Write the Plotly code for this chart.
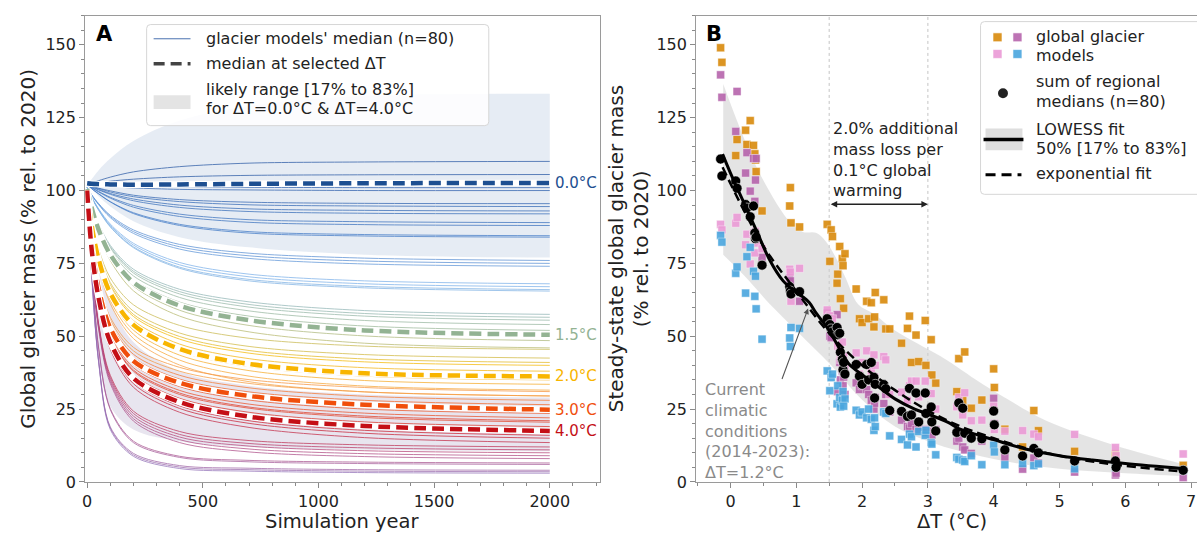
import plotly.graph_objects as go
from plotly.colors import sample_colorscale

W, H = 1197, 541
FONT = "DejaVu Sans"

# ---------------- Panel A data ----------------
years = [0, 20, 50, 100, 200, 400, 700, 1200, 2000]

curve_dT = [0.0, 0.0, 0.1, 0.1, 0.15, 0.2, 0.2, 0.25, 0.3, 0.3, 0.4, 0.4,
            0.6, 0.6, 0.65, 0.9, 0.9, 0.95, 0.95,
            1.3, 1.35, 1.4, 1.45, 1.5, 1.6, 1.65,
            1.75, 1.8, 1.9, 2.0, 2.1, 2.2, 2.3, 2.4, 2.5,
            2.55, 2.6, 2.8, 2.9, 3.1, 3.2, 3.4,
            3.5, 3.6, 4.0, 4.1, 4.3,
            4.5, 4.7, 4.9, 5.1, 5.3, 5.6, 5.9, 6.3, 6.6, 7.0]

curve_vals = [
    [102, 102.6, 103.4, 104.6, 106.4, 108.2, 109.4, 109.8, 110],
    [102, 102.3, 102.6, 103.2, 103.9, 104.7, 105.2, 105.4, 105.5],
    [102, 101.9, 101.8, 101.7, 101.5, 101.2, 101.1, 101.0, 101],
    [102, 101.8, 101.6, 101.3, 100.9, 100.4, 100.2, 100.0, 100],
    [102, 101.5, 100.8, 99.9, 98.4, 96.9, 96.0, 95.6, 95.5],
    [102, 101.4, 100.7, 99.5, 97.9, 96.2, 95.1, 94.7, 94.5],
    [102, 101.3, 100.4, 99.0, 97.1, 95.0, 93.7, 93.2, 93],
    [102, 101.2, 100.2, 98.7, 96.5, 94.2, 92.8, 92.2, 92],
    [102, 101.0, 99.7, 97.7, 94.9, 91.9, 90.0, 89.3, 89],
    [102, 100.9, 99.5, 97.4, 94.3, 91.1, 89.1, 88.3, 88],
    [102, 100.6, 98.9, 96.2, 92.4, 88.4, 85.9, 84.9, 84.5],
    [102, 100.6, 98.8, 96.1, 92.1, 88.0, 85.4, 84.4, 84],
    [101, 98.5, 95.5, 91.5, 86.5, 81.5, 78.5, 76.8, 76],
    [101, 98.4, 95.3, 91.1, 85.9, 80.7, 77.6, 75.8, 75],
    [101, 98.3, 95.1, 90.7, 85.3, 79.9, 76.7, 74.8, 74],
    [101, 97.7, 93.7, 88.5, 81.9, 75.3, 71.3, 69.0, 68],
    [101, 97.6, 93.5, 88.1, 81.3, 74.5, 70.4, 68.0, 67],
    [101, 97.5, 93.3, 87.7, 80.7, 73.7, 69.5, 67.1, 66],
    [101, 97.5, 93.2, 87.5, 80.4, 73.3, 69.0, 66.6, 65.5],
    [100.5, 94.9, 88.5, 81.2, 73.0, 66.1, 61.8, 58.8, 57.5],
    [100.5, 94.8, 88.2, 80.7, 72.3, 65.3, 60.9, 57.8, 56.5],
    [100.5, 94.7, 87.9, 80.3, 71.7, 64.5, 60.0, 56.9, 55.5],
    [100.5, 94.5, 87.5, 79.6, 70.7, 63.3, 58.7, 55.4, 54],
    [100.5, 94.2, 86.9, 78.7, 69.5, 61.7, 56.9, 53.5, 52],
    [100.5, 93.7, 85.9, 77.1, 67.2, 58.9, 53.7, 50.1, 48.5],
    [100.5, 93.4, 85.2, 76.0, 65.6, 56.9, 51.5, 47.6, 46],
    [100, 89.6, 79.8, 70.0, 60.8, 53.7, 49.3, 46.6, 45.5],
    [100, 89.1, 78.7, 68.4, 58.6, 51.1, 46.5, 43.7, 42.5],
    [100, 88.8, 78.2, 67.6, 57.5, 49.9, 45.1, 42.2, 41],
    [100, 88.6, 77.8, 67.0, 56.8, 49.0, 44.2, 41.2, 40],
    [100, 88.2, 77.1, 65.9, 55.4, 47.3, 42.3, 39.2, 38],
    [100, 87.7, 76.0, 64.3, 53.2, 44.8, 39.6, 36.3, 35],
    [100, 87.4, 75.4, 63.4, 52.1, 43.5, 38.2, 34.8, 33.5],
    [100, 87.0, 74.7, 62.3, 50.7, 41.8, 36.3, 32.9, 31.5],
    [100, 86.6, 73.9, 61.2, 49.2, 40.1, 34.4, 30.9, 29.5],
    [100, 82.4, 68.3, 55.6, 45.0, 38.0, 33.8, 30.9, 29.5],
    [100, 82.8, 69.0, 56.5, 46.2, 39.3, 35.1, 32.4, 31],
    [100, 82.0, 67.6, 54.6, 43.8, 36.6, 32.3, 29.4, 28],
    [100, 81.6, 66.9, 53.7, 42.7, 35.3, 30.9, 28.0, 26.5],
    [100, 80.9, 65.6, 51.8, 40.3, 32.7, 28.1, 25.0, 23.5],
    [100, 80.5, 64.9, 50.9, 39.2, 31.4, 26.7, 23.6, 22],
    [100, 80.1, 64.2, 49.9, 38.0, 30.0, 25.3, 22.1, 20.5],
    [100, 80.3, 64.5, 50.2, 38.4, 30.5, 25.7, 22.6, 21],
    [100, 79.8, 63.6, 49.0, 36.8, 28.7, 23.9, 20.6, 19],
    [100, 79.0, 62.2, 47.1, 34.5, 26.1, 21.0, 17.7, 16],
    [100, 78.8, 61.8, 46.5, 33.7, 25.2, 20.1, 16.7, 15],
    [100, 78.4, 61.1, 45.5, 32.5, 23.9, 18.7, 15.2, 13.5],
    [100, 76.2, 54.2, 36.6, 24.3, 17.3, 14.2, 12.7, 12],
    [100, 76.0, 53.7, 35.9, 23.5, 16.3, 13.2, 11.7, 11],
    [100, 75.7, 53.2, 35.2, 22.6, 15.4, 12.3, 10.7, 10],
    [100, 75.4, 52.7, 34.5, 21.7, 14.5, 11.3, 9.7, 9],
    [100, 75.2, 52.2, 33.8, 20.9, 13.5, 10.3, 8.7, 8],
    [100, 72.9, 45.8, 25.2, 14.0, 8.8, 7.4, 6.8, 6.5],
    [100, 72.7, 45.5, 24.8, 13.5, 8.4, 6.9, 6.3, 6],
    [100, 71.2, 41.4, 18.9, 9.8, 5.6, 4.7, 4.2, 4],
    [100, 71.0, 41.1, 18.5, 9.3, 5.1, 4.2, 3.7, 3.5],
    [100, 70.9, 40.8, 18.0, 8.8, 4.6, 3.7, 3.2, 3],
]

med_labels = ["0.0°C", "1.5°C", "2.0°C", "3.0°C", "4.0°C"]
med_vals = [
    [102.5, 102.3, 102.2, 102.1, 102.0, 102.1, 102.3, 102.5, 102.6],
    [100.5, 94.0, 86.5, 78.0, 68.5, 60.5, 55.5, 52.0, 50.5],
    [100, 87.8, 76.3, 64.8, 53.9, 45.6, 40.5, 37.3, 36.2],
    [100, 81.3, 66.3, 52.8, 41.5, 34.0, 29.5, 26.5, 24.8],
    [100, 79.4, 62.9, 48.0, 35.6, 27.4, 22.4, 19.2, 17.5],
]

range0_upper = [102, 104, 107, 111, 117, 124, 129, 132.5, 133.2]
range0_lower = [102, 100.5, 98, 94.5, 89.5, 84, 80.5, 78, 77]
range4_upper = [100, 88, 76, 62, 48, 38, 33, 30, 29]
range4_lower = [100, 66, 42, 26, 18, 14, 12, 11, 10.5]

# ---------------- Panel B data ----------------
dT_B = [-0.15, -0.13, 0.08, 0.10, 0.23, 0.25, 0.30, 0.35, 0.37, 0.38, 0.39, 0.48,
        0.90, 0.91, 0.92, 1.05, 1.47, 1.51, 1.53, 1.55, 1.62, 1.63, 1.66, 1.67,
        1.70, 1.71, 1.74, 1.72, 1.91, 1.96, 2.00, 2.07, 2.10, 2.14, 2.18, 2.19,
        2.20, 2.33, 2.36, 2.42, 2.60, 2.69, 2.72, 2.75, 2.82, 2.86, 2.96, 2.97,
        3.05, 3.06, 3.12, 3.44, 3.47, 3.53, 3.56, 3.66, 3.82, 4.00, 4.01, 4.17,
        4.44, 4.61, 4.68, 5.23, 5.85, 5.86, 6.88]
model_orange = [149, 144, 112, 117.5, 120.7, 115.8, 124, 115.5, 112.6, 110.5, 106.5, 93,
                94.7, 101, 88.9, 87.5, 88.4, 75.7, 86.5, 84.2, 68.2, 71.3, 80.8, 62.9,
                76.6, 74.2, 78.3, 59.6, 66.2, 56, 54.7, 62, 56, 61.5, 53.2, 56.6,
                65, 62.5, 52.5, 52.5, 47.6, 52.7, 56.9, 41, 50.4, 41.3, 55.4, 40,
                48.8, 36.7, 33.9, 31, 42.3, 28, 44.6, 25.3, 28.1, 38.8, 32.4, 18.1,
                12, 24.5, 17.6, 10.5, 9.7, 7, 5.7]
model_purple = [139.7, 132, 120.3, 134, 106, 113, 99.8, 111, 96.3, 103.6, 111, 77.1,
                70, 69, 66, 62, 58, 50, 49.5, 53, 57.4, 31, 41, 35,
                38, 33, 30, 36, 34, 31.7, 33, 31.7, 30, 28, 25, 27,
                29, 26.9, 30, 24, 21.2, 19, 18.5, 20, 18, 18, 18, 17,
                17.4, 16, 18, 14, 15, 12, 11, 9.8, 14, 28.7, 20, 8.4,
                4.4, 8.2, 6.5, 3.4, 2.4, 3, 1.5]
model_pink = [88.4, 86.5, 88.8, 90.8, 81.4, 85, 74.8, 85.4, 78.6, 86, 82, 80,
              73, 72, 62, 73.3, 59, 57, 55, 56, 53, 46.6, 45, 42,
              48, 40, 39, 43, 44.3, 37, 41, 45, 40, 38, 43.6, 36,
              40, 43, 41.9, 30, 30.8, 28, 33, 34.6, 34.6, 29.2, 34.6, 30.3,
              30.3, 25.3, 25, 25.8, 29, 23, 30.6, 21, 21.2, 26, 18, 17.4,
              17.6, 16.4, 15.5, 16.3, 11.8, 9, 9.6]
model_blue = [84.6, 82.3, 71.6, 73.8, 64.8, 77.3, 80.5, 72.3, 63.7, 70.6, 59.4, 49,
              49.4, 46.5, 53, 52.7, 38.1, 31.3, 35.8, 37, 26.8, 33, 29, 25.7,
              28, 31, 28.5, 26, 24.6, 23, 24, 22, 25, 21.5, 17.7, 22,
              19, 24, 23.5, 15.8, 14.6, 12.7, 16.4, 15.5, 12, 17.3, 16, 17.7,
              13.5, 13, 9.3, 8.4, 7.8, 7.5, 7, 9, 5.9, 12.6, 10.3, 5.9,
              6.3, 5.6, 6.2, 4.5, 5, 5.5, 4]
regional_median_sum = [110.8, 105, 103.3, 100.8, 95.2, 94, 91, 94.7, 85.4, 83.5, 84, 74.4,
                       67, 65.5, 64.5, 65.3, 56, 54, 52.5, 51.5, 53, 50.5, 51, 44.5,
                       42, 38.5, 37, 41, 40.3, 36.3, 33.5, 40.3, 35, 41, 35.9, 28.8,
                       33.5, 33.4, 32, 24.5, 24.2, 22.5, 32.1, 23, 30.5, 20.6, 30.5, 23.5,
                       25.7, 20.6, 17.5, 17, 27.1, 25.3, 16.7, 15, 14.8, 24.3, 19.6, 11,
                       8.9, 11.5, 10, 7.2, 7.2, 5, 4]

lowess_dT = [-0.12, 0.0, 0.2, 0.4, 0.6, 0.8, 1.0, 1.1, 1.2, 1.3, 1.5, 1.6, 1.7, 1.8,
             2.0, 2.2, 2.5, 2.8, 3.0, 3.3, 3.5, 4.0, 4.5, 5.0, 5.5, 6.0, 6.9]
lowess_val = [112.5, 106, 96, 86, 76, 69, 65, 63.5, 61.5, 58, 52, 48, 44, 40.5,
              36.8, 33.5, 28.5, 25, 23.3, 20.5, 18, 14.5, 11.2, 9, 7.5, 6.3, 4.5]
lowess_up_dT = [-0.11, 0.42, 0.91, 1.1, 1.3, 1.45, 1.6, 1.75, 1.94, 2.17, 2.5, 3.2,
                3.8, 4.2, 4.8, 5.85, 6.9]
lowess_up_val = [136.6, 107, 89, 85.8, 85.5, 82.5, 77, 70, 61, 57.8, 52, 43,
                 34, 28.5, 21, 12.5, 6]
lowess_lo_dT = [-0.11, 0.2, 0.6, 1.0, 1.53, 1.98, 2.5, 3.0, 3.5, 4.2, 5.0, 6.0, 6.9]
lowess_lo_val = [78, 71, 61, 52, 40, 28.6, 19, 14, 10.5, 7, 4.5, 3, 2]
expfit_dT = [-0.12, 0.5, 1.0, 1.5, 2.0, 2.5, 3.0, 3.5, 4.0, 4.5, 5.0, 5.5, 6.0, 6.9]
expfit_val = [108, 81, 65.5, 51, 40, 31.5, 24.5, 19, 15, 11.5, 9, 7, 5.5, 3.5]

# ---------------- styles ----------------
cscale = [[0.0, "#2757a4"], [0.057, "#3f78c6"], [0.129, "#7ab0ea"],
          [0.214, "#9bb89a"], [0.286, "#f5b800"], [0.357, "#f7a040"],
          [0.429, "#f25a22"], [0.571, "#cc1c2c"], [0.714, "#b2467e"],
          [1.0, "#9270b8"]]
med_colors = ["#1d4f91", "#93b393", "#f8b500", "#f04e0c", "#c40f16"]
c_orange, c_purple, c_pink, c_blue = "#d98a0c", "#b664ac", "#eb9ad6", "#4aa6de"


def X(p):
    return p / W


def Y(p):
    return 1 - p / H


fig = go.Figure()

# Panel A likely ranges
for up, lo, col in [(range0_upper, range0_lower, "rgba(196,210,228,0.42)"),
                    (range4_upper, range4_lower, "rgba(200,194,216,0.42)")]:
    fig.add_trace(go.Scatter(x=years, y=lo, mode="lines", line=dict(width=0, shape="spline"),
                             showlegend=False, hoverinfo="skip", xaxis="x", yaxis="y"))
    fig.add_trace(go.Scatter(x=years, y=up, mode="lines", line=dict(width=0, shape="spline"),
                             fill="tonexty", fillcolor=col, showlegend=False,
                             hoverinfo="skip", xaxis="x", yaxis="y"))

# Panel A individual curves
for dT, vals in zip(curve_dT, curve_vals):
    col = sample_colorscale(cscale, [dT / 7.0])[0]
    fig.add_trace(go.Scatter(x=years, y=vals, mode="lines",
                             line=dict(color=col, width=1, shape="spline", smoothing=0.9),
                             opacity=0.72, showlegend=False, xaxis="x", yaxis="y"))

# Panel A medians
for vals, col in zip(med_vals, med_colors):
    fig.add_trace(go.Scatter(x=years, y=vals, mode="lines",
                             line=dict(color="white", width=6.5, shape="spline", smoothing=0.9),
                             showlegend=False, xaxis="x", yaxis="y"))
    fig.add_trace(go.Scatter(x=years, y=vals, mode="lines",
                             line=dict(color=col, width=4.5, dash="12px,6px", shape="spline",
                                       smoothing=0.9),
                             showlegend=False, xaxis="x", yaxis="y"))

# Panel B band
fig.add_trace(go.Scatter(x=lowess_lo_dT, y=lowess_lo_val, mode="lines",
                         line=dict(width=0, shape="spline"), showlegend=False,
                         hoverinfo="skip", xaxis="x2", yaxis="y2"))
fig.add_trace(go.Scatter(x=lowess_up_dT, y=lowess_up_val, mode="lines",
                         line=dict(width=0, shape="spline"), fill="tonexty",
                         fillcolor="rgba(205,205,205,0.55)", showlegend=False,
                         hoverinfo="skip", xaxis="x2", yaxis="y2"))

# Panel B model squares
for vals, col in [(model_orange, c_orange), (model_purple, c_purple),
                  (model_pink, c_pink), (model_blue, c_blue)]:
    fig.add_trace(go.Scatter(x=dT_B, y=vals, mode="markers",
                             marker=dict(symbol="square", size=8, color=col, opacity=0.9,
                                         line=dict(color="rgba(255,255,255,0.7)", width=0.6)),
                             showlegend=False, xaxis="x2", yaxis="y2"))

fig.add_trace(go.Scatter(x=dT_B, y=regional_median_sum, mode="markers",
                         marker=dict(symbol="circle", size=10, color="black",
                                     line=dict(color="rgba(255,255,255,0.8)", width=0.7)),
                         showlegend=False, xaxis="x2", yaxis="y2"))
fig.add_trace(go.Scatter(x=lowess_dT, y=lowess_val, mode="lines",
                         line=dict(color="black", width=3, shape="spline"),
                         showlegend=False, xaxis="x2", yaxis="y2"))
fig.add_trace(go.Scatter(x=expfit_dT, y=expfit_val, mode="lines",
                         line=dict(color="black", width=2.5, dash="9px,5px", shape="spline"),
                         showlegend=False, xaxis="x2", yaxis="y2"))

axis_common = dict(showline=True, linecolor="#9a9a9a", linewidth=1.2, showgrid=False,
                   zeroline=False, ticks="outside", ticklen=5, tickwidth=1,
                   tickcolor="#8a8a8a", tickfont=dict(size=16, color="#222", family=FONT))

fig.update_layout(
    width=W, height=H, margin=dict(l=0, r=0, t=0, b=0),
    paper_bgcolor="white", plot_bgcolor="white",
    font=dict(family=FONT, size=16, color="#222"),
    showlegend=False,
    xaxis=dict(domain=[X(82.5), X(598)], range=[-8, 2215],
               tickvals=[0, 500, 1000, 1500, 2000], mirror=True, anchor="y",
               minor=dict(ticks="outside", ticklen=3, dtick=100, tick0=0, tickcolor="#8a8a8a"),
               **axis_common),
    yaxis=dict(domain=[Y(491), Y(16)], range=[0, 160],
               tickvals=[0, 25, 50, 75, 100, 125, 150], mirror=True, anchor="x",
               minor=dict(ticks="outside", ticklen=3, dtick=5, tick0=0, tickcolor="#8a8a8a"),
               **axis_common),
    xaxis2=dict(domain=[X(695), 1.0], range=[-0.52, 7.09],
                tickvals=[0, 1, 2, 3, 4, 5, 6, 7], mirror=True, anchor="y2",
                minor=dict(ticks="outside", ticklen=3, dtick=0.5, tick0=0, tickcolor="#8a8a8a"),
                **axis_common),
    yaxis2=dict(domain=[Y(491), Y(16)], range=[0, 160],
                tickvals=[0, 25, 50, 75, 100, 125, 150], mirror=False, anchor="x2",
                minor=dict(ticks="outside", ticklen=3, dtick=5, tick0=0, tickcolor="#8a8a8a"),
                **axis_common),
)

shapes = []
annots = []

# vertical dotted lines in panel B
for xv in [1.5, 3.0]:
    shapes.append(dict(type="line", xref="x2", yref="y2 domain", x0=xv, x1=xv, y0=0, y1=1,
                       line=dict(color="#c4c4c4", width=1, dash="dot"), layer="below"))


def rrect(x0, y0, x1, y1, r=4):
    def P(a, b):
        return f"{X(a):.5f},{Y(b):.5f}"
    return (f"M {P(x0 + r, y0)} L {P(x1 - r, y0)} Q {P(x1, y0)} {P(x1, y0 + r)} "
            f"L {P(x1, y1 - r)} Q {P(x1, y1)} {P(x1 - r, y1)} L {P(x0 + r, y1)} "
            f"Q {P(x0, y1)} {P(x0, y1 - r)} L {P(x0, y0 + r)} Q {P(x0, y0)} {P(x0 + r, y0)} Z")


def txt(x, y, s, size=16, color="#222", xanchor="left", **kw):
    annots.append(dict(xref="paper", yref="paper", x=X(x), y=Y(y), text=s, showarrow=False,
                       xanchor=xanchor, yanchor="middle",
                       font=dict(size=size, color=color, family=FONT), **kw))


# Legend A
shapes.append(dict(type="path", xref="paper", yref="paper", path=rrect(144, 25, 487, 128),
                   fillcolor="rgba(255,255,255,0.85)", line=dict(color="#d6d6d6", width=1)))
shapes.append(dict(type="line", xref="paper", yref="paper", x0=X(151), x1=X(188),
                   y0=Y(39.5), y1=Y(39.5), line=dict(color="#4a72b0", width=1)))
shapes.append(dict(type="line", xref="paper", yref="paper", x0=X(151), x1=X(188),
                   y0=Y(65), y1=Y(65), line=dict(color="#444444", width=3.5, dash="11px,6px")))
shapes.append(dict(type="rect", xref="paper", yref="paper", x0=X(151), x1=X(188),
                   y0=Y(97), y1=Y(111), fillcolor="#e4e4e4", line=dict(width=0)))
txt(202, 39.5, "glacier models' median (n=80)")
txt(202, 65, "median at selected ΔT")
txt(202, 91.5, "likely range [17% to 83%]")
txt(202, 111, "for ΔT=0.0°C & ΔT=4.0°C")

# Legend B
shapes.append(dict(type="path", xref="paper", yref="paper", path=rrect(980, 22, 1210, 198),
                   fillcolor="rgba(255,255,255,0.85)", line=dict(color="#d6d6d6", width=1)))
for (cx, cy), col in zip([(997, 38), (1017, 38), (997, 55), (1017, 55)],
                         [c_orange, c_purple, c_pink, c_blue]):
    shapes.append(dict(type="rect", xref="paper", yref="paper", x0=X(cx - 4.5), x1=X(cx + 4.5),
                       y0=Y(cy + 4.5), y1=Y(cy - 4.5), fillcolor=col, opacity=0.9,
                       line=dict(color="white", width=0.6)))
shapes.append(dict(type="circle", xref="paper", yref="paper", x0=X(997.5), x1=X(1007.5),
                   y0=Y(100), y1=Y(90), fillcolor="#222", line=dict(width=0)))
shapes.append(dict(type="rect", xref="paper", yref="paper", x0=X(985), x1=X(1022),
                   y0=Y(153), y1=Y(131), fillcolor="#dedede", line=dict(width=0)))
shapes.append(dict(type="line", xref="paper", yref="paper", x0=X(983), x1=X(1023),
                   y0=Y(142), y1=Y(142), line=dict(color="black", width=3.5)))
shapes.append(dict(type="line", xref="paper", yref="paper", x0=X(985), x1=X(1021),
                   y0=Y(178), y1=Y(178), line=dict(color="black", width=3, dash="10px,6px")))
txt(1034, 37.5, "global glacier")
txt(1034, 57, "models")
txt(1034, 83, "sum of regional")
txt(1034, 103.5, "medians (n=80)")
txt(1034, 131.5, "LOWESS fit")
txt(1034, 151.5, "50% [17% to 83%]")
txt(1034, 177, "exponential fit")

# Panel letters
txt(91, 35, "<b>A</b>", size=21, color="black")
txt(703, 35, "<b>B</b>", size=21, color="black")

# Axis titles
txt(25, 253.5, "Global glacier mass (% rel. to 2020)", size=20, xanchor="center", textangle=-90)
txt(340, 531, "Simulation year", size=19.5, xanchor="center", borderpad=0)
txt(614, 253.5, "Steady-state global glacier mass", size=20, xanchor="center", textangle=-90)
txt(639, 253.5, "(% rel. to 2020)", size=20, xanchor="center", textangle=-90)
txt(951, 531, "ΔT (°C)", size=19.5, xanchor="center", borderpad=0)

# Median labels at right of panel A
for lab, vals, col in zip(med_labels, med_vals, med_colors):
    annots.append(dict(xref="x", yref="y", x=2012, y=vals[-1], text=lab, showarrow=False,
                       xanchor="left", yanchor="middle",
                       font=dict(size=15, color=col, family=FONT)))

# Panel B annotations
annots.append(dict(xref="paper", yref="paper", x=X(830), y=Y(163),
                   text="2.0% additional<br>mass loss per<br>0.1°C global<br>warming",
                   showarrow=False, xanchor="left", yanchor="middle", align="left",
                   font=dict(size=16, color="#222", family=FONT)))
annots.append(dict(xref="x2", yref="y2", x=3.0, y=95.3, ax=1.5, ay=95.3, axref="x2",
                   ayref="y2", text="", showarrow=True, arrowhead=2, startarrowhead=2,
                   arrowside="end+start", arrowsize=1, arrowwidth=1.3, arrowcolor="#222"))
annots.append(dict(xref="paper", yref="paper", x=X(702), y=Y(439),
                   text="Current<br>climatic<br>conditions<br>(2014-2023):<br>ΔT=1.2°C",
                   showarrow=False, xanchor="left", yanchor="middle", align="left",
                   font=dict(size=16, color="#8a8a8a", family=FONT)))
annots.append(dict(xref="x2", yref="y2", x=1.18, y=59.5, ax=0.775, ay=34.8, axref="x2",
                   ayref="y2", text="", showarrow=True, arrowhead=2, arrowsize=1,
                   arrowwidth=1.1, arrowcolor="#555"))

fig.update_layout(shapes=shapes, annotations=annots)

fig.write_html("out.html", config={"displayModeBar": False},
               post_script="document.body.style.margin='0';document.body.style.overflow='hidden';")
